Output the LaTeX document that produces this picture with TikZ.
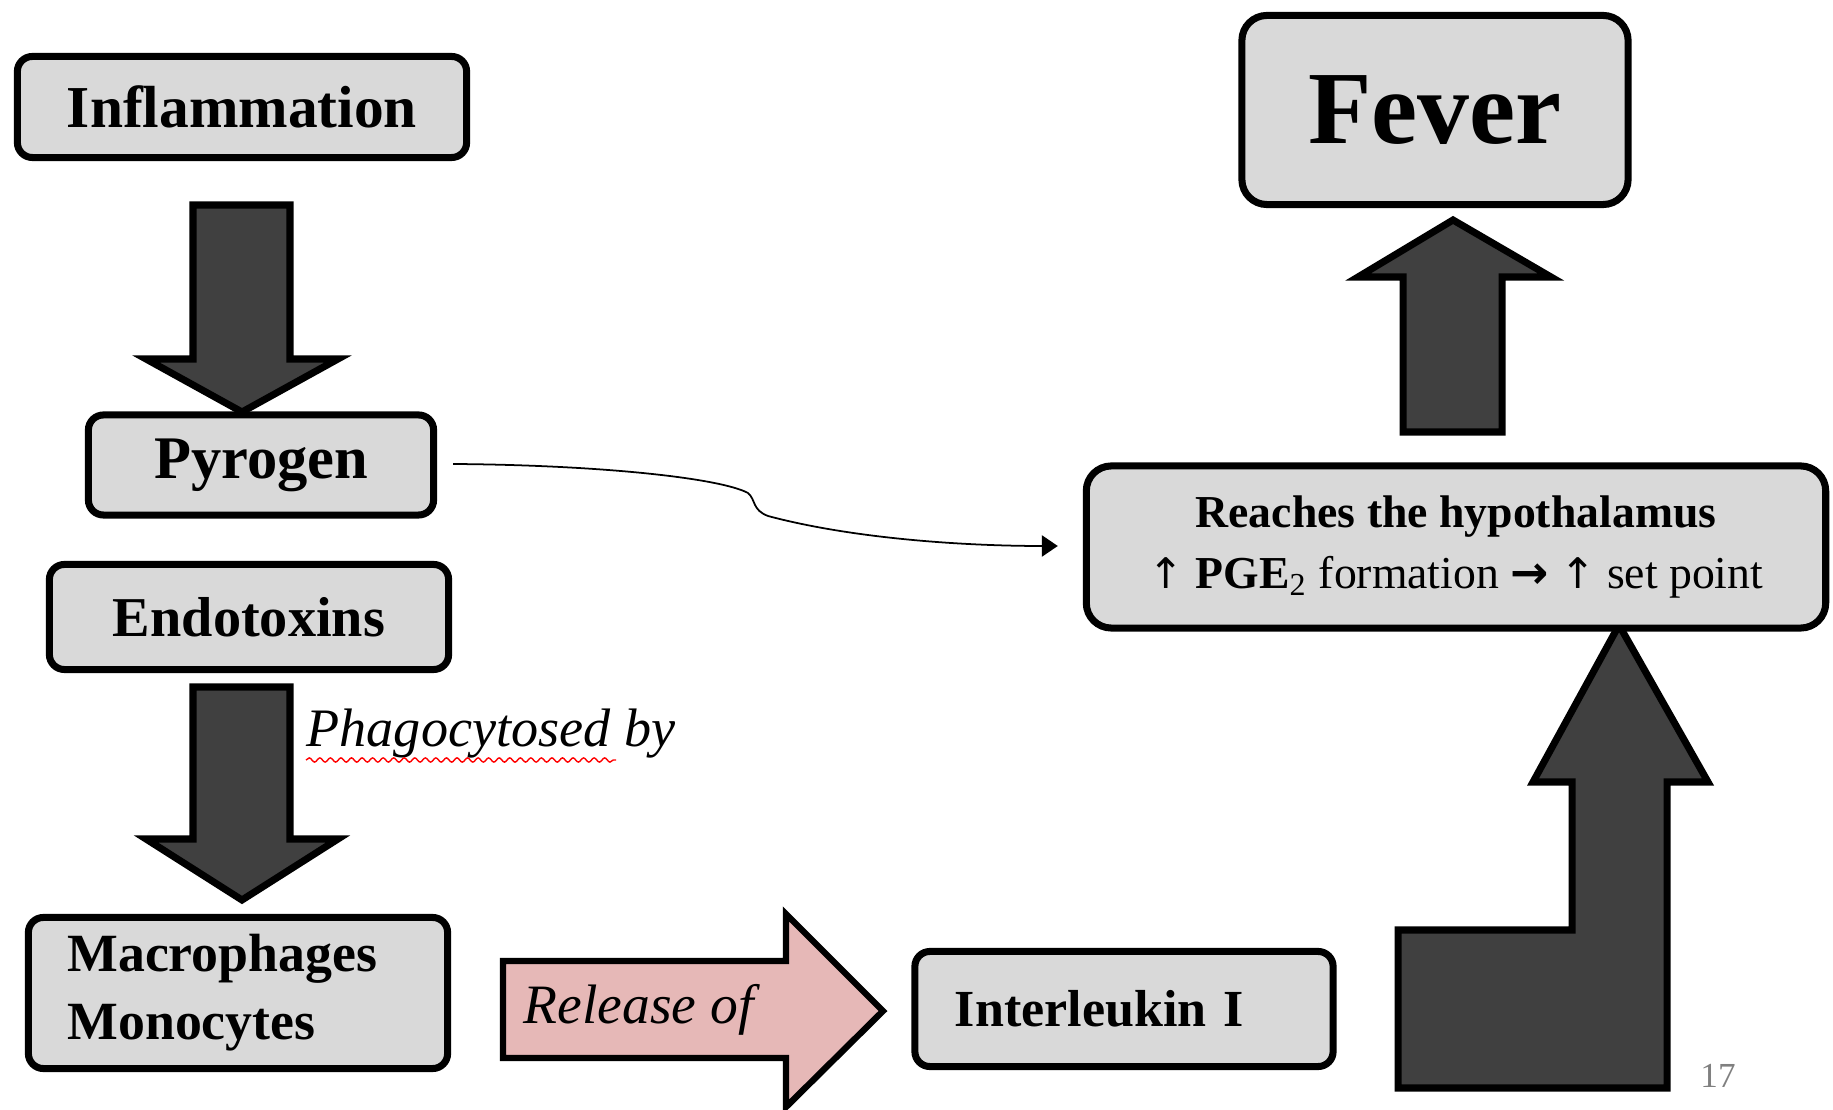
\documentclass[tikz,border=0pt]{standalone}
\usepackage{fontspec}
\setmainfont{Liberation Serif}
\newfontfamily\symfont{DejaVu Sans}
\usetikzlibrary{positioning,arrows.meta,decorations.pathmorphing}

\definecolor{boxgray}{HTML}{D9D9D9}
\definecolor{arrowgray}{HTML}{404040}
\definecolor{pinkfill}{HTML}{E6B8B7}

\tikzset{
  stagebox/.style={draw=black, line width=2pt, fill=boxgray, rounded corners=0.15cm,
    font=\bfseries\fontsize{16}{19}\selectfont},
  blockarrow/.style={draw=black, line width=2pt, fill=arrowgray, line join=miter},
  pinkarrow/.style={draw=black, line width=1.8pt, fill=pinkfill, line join=miter},
  steplabel/.style={font=\itshape\fontsize{15.4}{18}\selectfont},
  thincurve/.style={line width=0.5pt, -{Triangle[length=4.5pt,width=6pt]}}
}

\begin{document}
\begin{tikzpicture}[x=0.01cm, y=-0.01cm]
  \useasboundingbox (0,0) rectangle (1833,1110);

  % Block arrows (drawn first, boxes sit on top)
  \draw[blockarrow] (193,205) -- (290,205) -- (290,359) -- (338,359) -- (242,412)
    -- (146,359) -- (193,359) -- cycle;
  \draw[blockarrow] (193,687) -- (290,687) -- (290,839) -- (338,839) -- (242,900)
    -- (146,839) -- (193,839) -- cycle;
  \draw[blockarrow] (1403,432) -- (1403,277) -- (1358,277) -- (1453,220)
    -- (1551,277) -- (1502,277) -- (1502,432) -- cycle;
  \draw[blockarrow] (1398,1088) -- (1398,930) -- (1572,930) -- (1572,782)
    -- (1533,782) -- (1619,625) -- (1708,782) -- (1667,782) -- (1667,1088) -- cycle;

  % Left column
  \node[stagebox, minimum width=4.49cm, minimum height=1.01cm,
    font=\bfseries\fontsize{16.9}{19}\selectfont] (inflammation)
    at (242,107) {Inflammation};
  \node[stagebox, minimum width=3.45cm, minimum height=1.0cm,
    font=\bfseries\fontsize{17.2}{19}\selectfont] (pyrogen)
    at (261,465) {Pyrogen};
  \node[stagebox, minimum width=3.99cm, minimum height=1.05cm] (endotoxins)
    at (249,617) {Endotoxins};
  \node[stagebox, minimum width=4.19cm, minimum height=1.51cm, text width=3.41cm,
    align=left, inner xsep=0.36cm, font=\bfseries\fontsize{15.3}{19.3}\selectfont]
    (macrophages) at (238,993) {Macrophages\\Monocytes};

  % Label beside the second arrow
  \node[steplabel, anchor=west, inner sep=0pt] (phagocytosed) at (306,734) {Phagocytosed by};
  \draw[red, line width=0.4pt, decorate,
    decoration={snake, amplitude=0.6pt, segment length=3pt}]
    (306,760) -- (616,760);

  % Bottom row
  \draw[pinkarrow] (503,961) -- (786,961) -- (786,914) -- (883,1011)
    -- (786,1107) -- (786,1058) -- (503,1058) -- cycle;
  \node[steplabel, anchor=west, inner sep=0pt, font=\itshape\fontsize{15.8}{18}\selectfont]
    (release) at (523,1010) {Release of};
  \node[stagebox, minimum width=4.18cm, minimum height=1.15cm, text width=3.38cm,
    align=left, inner xsep=0.40cm, font=\bfseries\fontsize{14.8}{18}\selectfont]
    (interleukin) at (1124,1009) {Interleukin I};

  % Right column
  \node[stagebox, rounded corners=0.25cm, minimum width=7.39cm, minimum height=1.62cm,
    align=center, font=\fontsize{13}{17.3}\selectfont] (hypothalamus) at (1456,547)
    {\textbf{Reaches the hypothalamus}\\
     {\symfont\fontsize{12}{17}\selectfont ↑} \textbf{PGE}\textsubscript{2} formation
     {\symfont\bfseries →} {\symfont\fontsize{12}{17}\selectfont ↑} set point};
  \node[stagebox, rounded corners=0.25cm, minimum width=3.86cm, minimum height=1.89cm,
    font=\bfseries\fontsize{29.5}{32}\selectfont] (fever) at (1435,110) {Fever};

  % Thin curved arrow from Pyrogen
  \coordinate (curvestart) at ([shift={(16,-1)}]pyrogen.east);
  \coordinate (curveend) at ([shift={(-25,-1)}]hypothalamus.west);
  \draw[thincurve] (curvestart) .. controls (600,465) and (720,478) .. (748,493)
    .. controls (756,500) and (752,510) .. (768,516)
    .. controls (850,538) and (960,546) .. (curveend);

  % Slide number
  \node[text=gray, font=\fontsize{10}{12}\selectfont] (slidenum) at (1718,1076) {17};
\end{tikzpicture}
\end{document}
